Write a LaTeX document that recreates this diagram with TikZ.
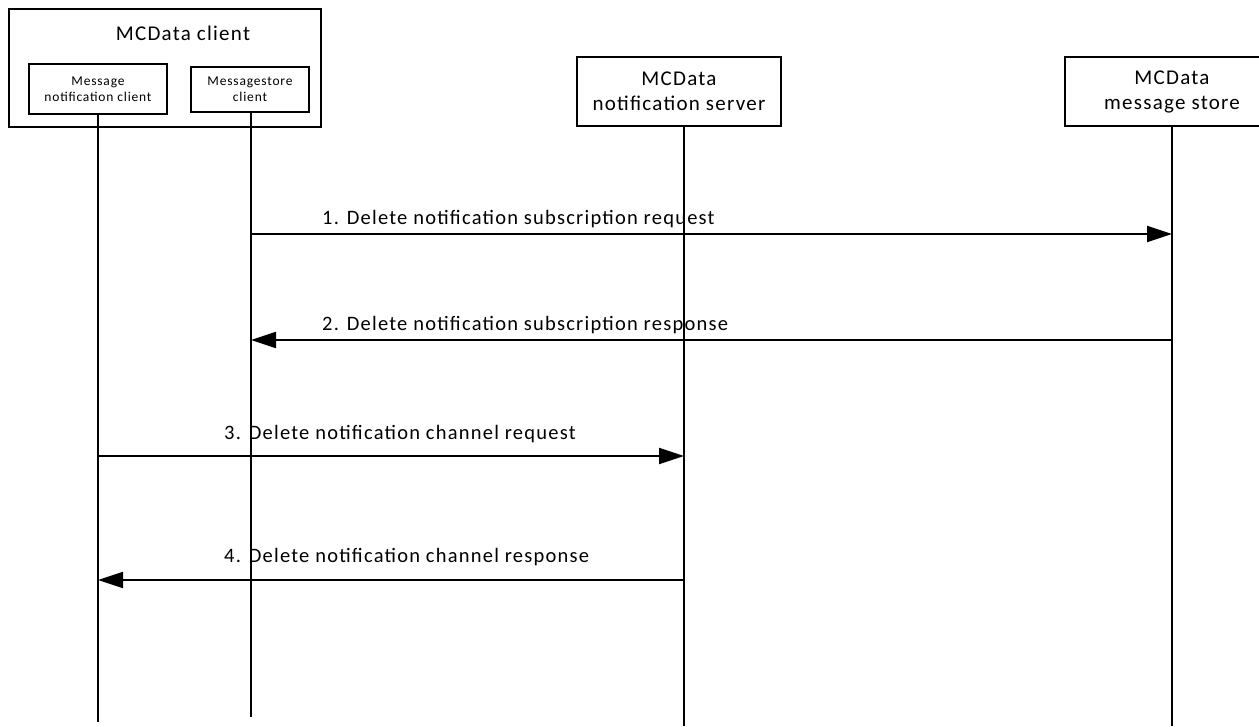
\documentclass[tikz,border=0pt]{standalone}
\usepackage{fontspec}
\setmainfont[LetterSpace=6]{Carlito}
\usetikzlibrary{arrows.meta,positioning,calc}

\begin{document}
\begin{tikzpicture}[x=1pt,y=-1pt,>={Triangle[length=25pt,width=16pt]},
  font=\fontsize{20.5}{23}\selectfont,
  entity/.style={draw,line width=2pt,align=center,inner sep=0pt,fill=white},
  small/.style={font=\fontsize{13.5}{16}\selectfont},
  title/.style={font=\fontsize{21}{25}\selectfont},
  life/.style={line width=2pt},
  msg/.style={->,line width=2pt},
  msglabel/.style={anchor=south west,inner sep=0pt}]
\useasboundingbox (0,0) rectangle (1259,726);
% client group with its two parts
\node[entity,minimum width=312pt,minimum height=118pt] (client) at (165,68) {};
\node[title] (clientname) at (183,33) {MCData client};
\node[entity,small,minimum width=138pt,minimum height=50pt] (mnc) at (98,89) {Message\\notification client};
\node[entity,small,minimum width=118pt,minimum height=45pt] (msc) at (250,89.5) {Messagestore\\client};
% servers
\node[entity,title,minimum width=204pt,minimum height=69pt] (srv) at (679,91.5) {MCData\\notification server};
\node[entity,title,minimum width=214pt,minimum height=69pt] (store) at (1172,91.5) {MCData\\message store};
% lifelines
\coordinate (mncend) at (98,722);
\coordinate (mscend) at (251,717);
\coordinate (srvend) at (684,726);
\coordinate (storeend) at (1172,726);
\draw[life] (mncend |- mnc.south) -- (mncend);
\draw[life] (mscend |- msc.south) -- (mscend);
\draw[life] (srvend |- srv.south) -- (srvend);
\draw[life] (storeend |- store.south) -- (storeend);
% messages
\draw[msg] (mscend |- 0,234) -- (storeend |- 0,234);
\node[msglabel] (m1) at (322,228) {1. Delete notification subscription request};
\draw[msg] (storeend |- 0,340) -- (mscend |- 0,340);
\node[msglabel] (m2) at (322,334) {2. Delete notification subscription response};
\draw[msg] (mncend |- 0,456) -- (srvend |- 0,456);
\node[msglabel] (m3) at (224,443) {3. Delete notification channel request};
\draw[msg] (srvend |- 0,580) -- (mncend |- 0,580);
\node[msglabel] (m4) at (224,566) {4. Delete notification channel response};
\end{tikzpicture}
\end{document}
